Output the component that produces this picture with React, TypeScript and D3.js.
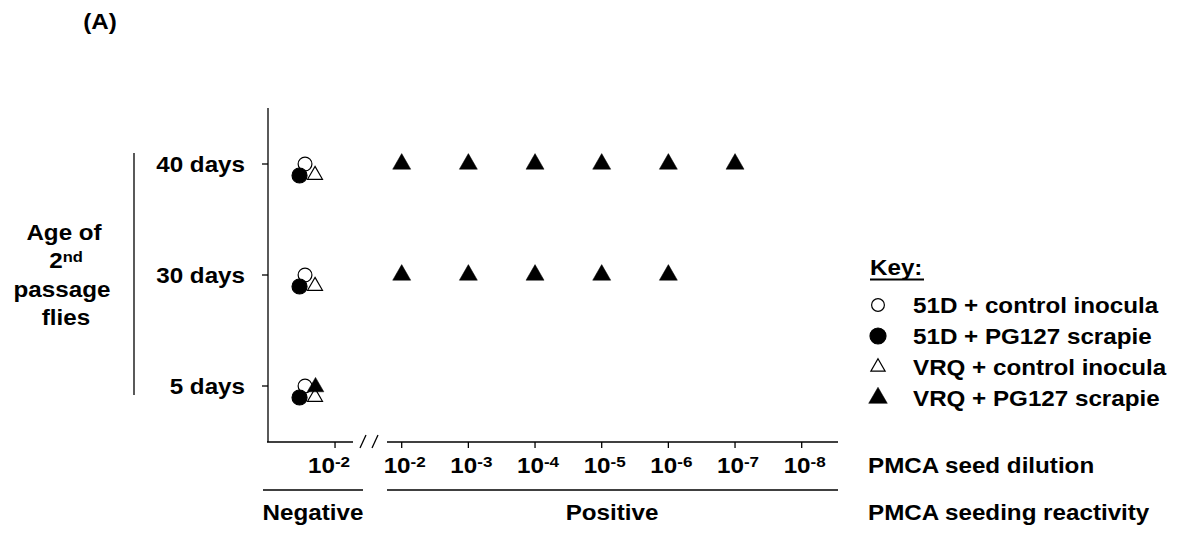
import React from 'react';
import * as d3 from 'd3';

// categories
const ages = ['5 days', '30 days', '40 days'];
const dilutionExps = [2, 3, 4, 5, 6, 7, 8];
const negativeExp = 2;

// series (key order)
const seriesKeys = [
    '51D + control inocula',
    '51D + PG127 scrapie',
    'VRQ + control inocula',
    'VRQ + PG127 scrapie',
];
const seriesShape = ['circle', 'circle', 'triangle', 'triangle'];
const seriesFilled = [false, true, false, true];

// which series were PMCA negative at 10^-2, per age
const negative40 = ['51D + control inocula', '51D + PG127 scrapie', 'VRQ + control inocula'];
const negative30 = ['51D + control inocula', '51D + PG127 scrapie', 'VRQ + control inocula'];
const negative5 = ['51D + control inocula', '51D + PG127 scrapie', 'VRQ + control inocula', 'VRQ + PG127 scrapie'];

// dilutions (exponent) at which VRQ + PG127 scrapie was positive, per age
const positive40 = [2, 3, 4, 5, 6, 7];
const positive30 = [2, 3, 4, 5, 6];
const positive5: number[] = [];

const negativeByAge: Record<string, string[]> = { '40 days': negative40, '30 days': negative30, '5 days': negative5 };
const positiveByAge: Record<string, number[]> = { '40 days': positive40, '30 days': positive30, '5 days': positive5 };

const font = '"Liberation Sans", Arial, Helvetica, sans-serif';

const T = ({ x, y, anchor = 'start', size = 22, children }: any) => (
    <text
        transform={`translate(${x},${y}) scale(1.1,1)`}
        textAnchor={anchor}
        fontSize={size}
        fontWeight="bold"
        fontFamily={font}
        fill="#000"
    >
        {children}
    </text>
);

const Marker = ({ x, y, shape, filled, r = 7.5, triSize = 140 }: any) => {
    if (shape === 'circle') {
        return <circle cx={x} cy={y} r={filled ? r : r - 0.6} fill={filled ? '#000' : '#fff'} stroke="#000" strokeWidth={1.2} />;
    }
    const path = d3.symbol().type(d3.symbolTriangle).size(filled ? triSize : triSize * 0.8)();
    return <path d={path || ''} transform={`translate(${x},${y})`} fill={filled ? '#000' : '#fff'} stroke="#000" strokeWidth={filled ? 0.5 : 1.2} />;
};

// small nudges so overlapping markers in the negative column stay visible
const nudgeX = [-30, -35.5, -20, -19.5];
const nudgeY = [0, 11.5, 11, 1];

const App = () => {
    const width = 1184;
    const height = 534;
    const axisX = 268;
    const axisY = 442;

    const y = d3.scalePoint<string>().domain(ages).range([386, 164]);
    const x = d3.scaleLinear().domain([2, 8]).range([401.7, 801.7]);
    const xNeg = x(negativeExp - 1);
    const legendY = d3.scalePoint<string>().domain(seriesKeys).range([305, 398]);

    return (
        <svg width={width} height={height} style={{ position: 'absolute', left: 0, top: 0, background: '#fff' }}>
            <T x={100} y={29} anchor="middle">(A)</T>

            {/* y label with bracket */}
            <line x1={134} x2={134} y1={153} y2={395} stroke="#000" strokeWidth={1.3} />
            <T x={64} y={240} anchor="middle">Age of</T>
            <T x={66} y={268} anchor="middle">2<tspan fontSize={15} dy={-6}>nd</tspan></T>
            <T x={62} y={297} anchor="middle">passage</T>
            <T x={66} y={325} anchor="middle">flies</T>

            {/* axes */}
            <line x1={axisX} x2={axisX} y1={108} y2={axisY} stroke="#000" strokeWidth={1.3} />
            <line x1={axisX - 1} x2={353} y1={axisY} y2={axisY} stroke="#000" strokeWidth={1.3} />
            <line x1={387} x2={838} y1={axisY} y2={axisY} stroke="#000" strokeWidth={1.3} />
            <line x1={360} x2={366} y1={448} y2={435} stroke="#000" strokeWidth={1.3} />
            <line x1={372} x2={378} y1={448} y2={435} stroke="#000" strokeWidth={1.3} />

            {ages.map(a => (
                <g key={a}>
                    <line x1={axisX - 6} x2={axisX} y1={y(a)} y2={y(a)} stroke="#000" strokeWidth={1.3} />
                    <T x={245} y={(y(a) as number) + 8} anchor="end">{a}</T>
                </g>
            ))}

            <line x1={xNeg} x2={xNeg} y1={axisY} y2={axisY + 6} stroke="#000" strokeWidth={1.3} />
            <T x={xNeg - 6} y={473} anchor="middle">10<tspan fontSize={15.5} dy={-6}>-{negativeExp}</tspan></T>
            {dilutionExps.map(e => (
                <g key={e}>
                    <line x1={x(e)} x2={x(e)} y1={axisY} y2={axisY + 6} stroke="#000" strokeWidth={1.3} />
                    <T x={x(e) + 3} y={473} anchor="middle">10<tspan fontSize={15.5} dy={-6}>-{e}</tspan></T>
                </g>
            ))}

            {/* negative / positive brackets */}
            <line x1={263} x2={363} y1={490} y2={490} stroke="#000" strokeWidth={1.5} />
            <line x1={387} x2={838} y1={490} y2={490} stroke="#000" strokeWidth={1.5} />
            <T x={313} y={520} anchor="middle">Negative</T>
            <T x={612} y={520} anchor="middle">Positive</T>
            <T x={868} y={473}>PMCA seed dilution</T>
            <T x={868} y={520}>PMCA seeding reactivity</T>

            {/* negative column */}
            {ages.map(a =>
                seriesKeys.map((k, i) =>
                    negativeByAge[a].includes(k) ? (
                        <Marker key={a + k} x={xNeg + nudgeX[i]} y={(y(a) as number) + nudgeY[i]}
                            shape={seriesShape[i]} filled={seriesFilled[i]} triSize={120} />
                    ) : null
                )
            )}

            {/* positive VRQ + PG127 scrapie */}
            {ages.map(a =>
                positiveByAge[a].map(e => (
                    <Marker key={a + e} x={x(e)} y={y(a)} shape="triangle" filled={true} triSize={140} />
                ))
            )}

            {/* legend */}
            <T x={870} y={275}>Key:</T>
            <line x1={870} x2={924} y1={279.5} y2={279.5} stroke="#000" strokeWidth={2} />
            {seriesKeys.map((k, i) => (
                <g key={k}>
                    <Marker x={878} y={legendY(k)} shape={seriesShape[i]} filled={seriesFilled[i]}
                        r={seriesFilled[i] ? 8 : 7} triSize={seriesFilled[i] ? 150 : 110} />
                    <T x={913} y={(legendY(k) as number) + 8}>{k}</T>
                </g>
            ))}
        </svg>
    );
};

export default App;
